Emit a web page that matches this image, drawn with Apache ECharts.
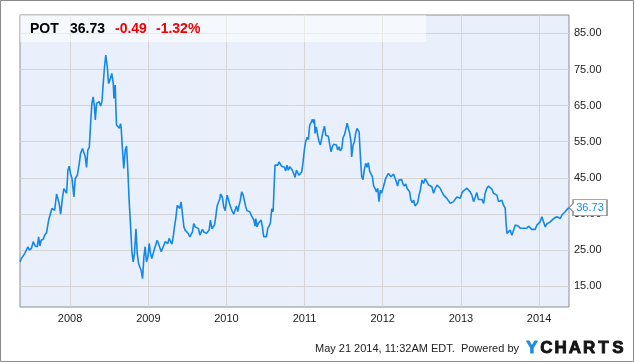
<!DOCTYPE html>
<html>
<head>
<meta charset="utf-8">
<script src="https://cdn.jsdelivr.net/npm/echarts@6/dist/echarts.min.js"></script>
<style>
html,body{margin:0;padding:0;background:#fff;}
#chart{width:635px;height:362px;}
</style>
</head>
<body>
<div id="chart"></div>
<script>
const ticker = 'POT';
const lastPrice = 36.73;
const change = '-0.49';
const changePct = '-1.32%';
const footerText = 'May 21 2014, 11:32AM EDT.  Powered by';
const yTicks = [15, 25, 35, 45, 55, 65, 75, 85];
const xTicks = ['2008-01-01','2009-01-01','2010-01-01','2011-01-01','2012-01-01','2013-01-01','2014-01-01'];

const dates2007to2009 = ['2007-05-12','2007-05-18','2007-05-27','2007-06-03','2007-06-09','2007-06-18','2007-06-24','2007-07-04','2007-07-13','2007-07-22','2007-08-01','2007-08-07','2007-08-13','2007-08-19','2007-08-29','2007-09-04','2007-09-13','2007-09-23','2007-09-29','2007-10-08','2007-10-14','2007-10-21','2007-10-30','2007-11-05','2007-11-11','2007-11-18','2007-11-27','2007-12-03','2007-12-09','2007-12-16','2007-12-22','2007-12-28','2008-01-03','2008-01-10','2008-01-19','2008-01-25','2008-02-04','2008-02-13','2008-02-19','2008-02-28','2008-03-06','2008-03-12','2008-03-18','2008-03-24','2008-03-31','2008-04-06','2008-04-12','2008-04-18','2008-04-24','2008-04-28','2008-05-04','2008-05-10','2008-05-16','2008-05-23','2008-05-29','2008-06-04','2008-06-10','2008-06-16','2008-06-23','2008-06-29','2008-07-05','2008-07-14','2008-07-21','2008-07-24','2008-07-30','2008-08-02','2008-08-05','2008-08-11','2008-08-18','2008-08-24','2008-08-27','2008-09-02','2008-09-08','2008-09-15','2008-09-21','2008-09-27','2008-10-03','2008-10-10','2008-10-16','2008-10-22','2008-10-28','2008-11-04','2008-11-10','2008-11-16','2008-11-22','2008-11-28','2008-12-05','2008-12-11','2008-12-17','2008-12-23','2008-12-30','2009-01-05','2009-01-11','2009-01-17','2009-01-24','2009-01-30','2009-02-05','2009-02-11','2009-02-17','2009-02-24','2009-03-02','2009-03-08','2009-03-14','2009-03-21','2009-03-27','2009-04-02','2009-04-08','2009-04-14','2009-04-21','2009-04-27','2009-05-03','2009-05-09','2009-05-16','2009-05-22','2009-05-28','2009-06-03','2009-06-10','2009-06-16','2009-06-22','2009-06-28','2009-07-08','2009-07-14','2009-07-20','2009-07-26','2009-08-01','2009-08-08','2009-08-14','2009-08-23','2009-08-30','2009-09-05','2009-09-11','2009-09-17','2009-09-23','2009-09-30','2009-10-06','2009-10-12','2009-10-18','2009-10-25','2009-10-31','2009-11-06','2009-11-12','2009-11-18','2009-11-25','2009-12-01','2009-12-04'];
const prices2007to2009 = [21.7,22.6,22.2,24.0,23.6,25.9,25.0,25.4,27.3,26.1,25.9,28.6,26.1,27.7,28.0,29.1,29.8,33.3,33.7,36.5,36.0,36.0,40.5,40.7,37.9,34.9,39.7,42.0,42.5,40.7,47.1,48.2,46.2,44.8,39.7,44.8,45.7,49.0,51.7,53.1,53.1,50.8,47.9,52.7,53.4,60.0,65.6,67.4,64.7,61.0,65.6,66.1,66.1,64.9,66.1,71.1,75.7,79.0,75.7,71.1,72.0,73.9,71.1,67.0,70.7,64.7,59.6,59.1,58.7,60.0,58.7,52.7,47.6,52.7,53.8,47.1,38.8,31.4,24.5,21.7,24.0,30.9,24.0,21.3,20.3,19.4,17.1,23.1,25.9,21.7,23.1,26.8,24.0,22.6,22.6,25.4,25.9,27.7,26.8,26.3,24.5,25.4,25.4,27.3,26.8,26.8,28.2,28.6,26.6,28.6,31.4,33.7,37.4,36.9,36.5,38.3,38.8,31.4,30.5,30.0,29.4,28.6,29.1,30.0,32.3,31.4,30.9,30.9,29.1,30.0,30.7,30.0,29.6,29.6,29.8,30.5,33.3,30.9,30.7,31.9,34.2,37.1,37.5,39.2,40.5];

const dates2009to2012 = ['2009-12-07','2009-12-13','2009-12-19','2009-12-26','2010-01-01','2010-01-04','2010-01-10','2010-01-16','2010-01-23','2010-01-29','2010-02-04','2010-02-10','2010-02-17','2010-02-23','2010-03-01','2010-03-07','2010-03-13','2010-03-20','2010-03-26','2010-04-01','2010-04-07','2010-04-14','2010-04-20','2010-04-26','2010-05-02','2010-05-09','2010-05-15','2010-05-18','2010-05-24','2010-05-30','2010-06-06','2010-06-12','2010-06-18','2010-06-24','2010-06-30','2010-07-07','2010-07-13','2010-07-19','2010-07-25','2010-08-01','2010-08-07','2010-08-13','2010-08-16','2010-08-22','2010-08-29','2010-09-04','2010-09-10','2010-09-16','2010-09-23','2010-09-29','2010-10-05','2010-10-11','2010-10-17','2010-10-24','2010-10-30','2010-11-05','2010-11-11','2010-11-18','2010-11-24','2010-11-30','2010-12-06','2010-12-13','2010-12-19','2010-12-25','2010-12-31','2011-01-06','2011-01-13','2011-01-19','2011-01-25','2011-01-31','2011-02-07','2011-02-13','2011-02-16','2011-02-19','2011-02-25','2011-03-03','2011-03-10','2011-03-16','2011-03-22','2011-03-28','2011-04-04','2011-04-10','2011-04-16','2011-04-22','2011-04-29','2011-05-05','2011-05-11','2011-05-17','2011-05-23','2011-05-30','2011-06-05','2011-06-11','2011-06-17','2011-06-24','2011-06-30','2011-07-06','2011-07-12','2011-07-19','2011-07-25','2011-07-31','2011-08-06','2011-08-09','2011-08-16','2011-08-22','2011-08-28','2011-09-03','2011-09-06','2011-09-13','2011-09-19','2011-09-25','2011-10-01','2011-10-07','2011-10-14','2011-10-20','2011-10-26','2011-11-01','2011-11-08','2011-11-14','2011-11-20','2011-11-26','2011-12-03','2011-12-09','2011-12-15','2011-12-21','2011-12-27','2012-01-03','2012-01-09','2012-01-15','2012-01-21','2012-01-28','2012-02-03','2012-02-09','2012-02-15','2012-02-21','2012-02-28','2012-03-05','2012-03-11','2012-03-17','2012-03-24','2012-03-30','2012-04-05','2012-04-11','2012-04-18','2012-04-24','2012-04-30','2012-05-06','2012-05-12','2012-05-19','2012-05-25','2012-05-31','2012-06-06','2012-06-13','2012-06-19','2012-06-25'];
const prices2009to2012 = [40.5,39.6,37.0,35.9,38.8,40.2,39.0,37.7,36.5,35.6,34.9,36.0,37.2,35.6,37.4,38.8,41.1,40.2,38.6,37.0,35.9,35.9,35.6,34.7,34.2,33.3,31.6,33.7,31.4,32.4,31.9,33.3,31.4,28.7,28.2,28.7,31.0,31.6,32.4,36.5,35.6,44.4,48.5,48.2,48.5,49.4,48.8,48.2,47.9,47.9,46.9,48.5,47.1,48.1,47.9,47.1,46.2,45.1,47.1,47.6,45.7,45.9,46.7,49.4,52.7,55.0,56.2,55.6,59.6,60.2,61.2,60.1,61.2,57.3,59.1,56.8,55.0,54.1,55.9,57.7,59.3,56.8,56.5,56.5,54.1,52.2,53.6,54.3,54.1,54.1,52.7,53.6,52.5,53.1,56.2,56.8,58.2,60.1,58.7,57.3,55.0,50.8,54.1,55.0,57.3,58.7,59.1,57.7,50.8,45.3,44.5,47.1,49.0,47.9,49.2,46.9,46.0,45.3,42.7,42.1,41.1,42.1,38.4,41.6,40.7,42.1,42.5,44.8,45.3,46.2,46.7,45.3,45.7,46.0,46.2,43.9,42.7,44.4,44.8,44.5,43.3,42.7,43.3,42.1,41.6,41.1,38.8,38.1,38.8,37.2,37.7,38.1,40.2,41.5];

const dates2012to2014 = ['2012-07-03','2012-07-10','2012-07-18','2012-07-26','2012-08-03','2012-08-10','2012-08-18','2012-08-26','2012-09-03','2012-09-11','2012-09-18','2012-09-26','2012-10-04','2012-10-12','2012-10-20','2012-10-27','2012-11-04','2012-11-12','2012-11-20','2012-11-27','2012-12-05','2012-12-13','2012-12-21','2012-12-29','2013-01-05','2013-01-13','2013-01-21','2013-01-29','2013-02-06','2013-02-13','2013-02-21','2013-03-01','2013-03-09','2013-03-16','2013-03-24','2013-04-01','2013-04-09','2013-04-17','2013-04-24','2013-05-02','2013-05-10','2013-05-18','2013-05-26','2013-06-02','2013-06-10','2013-06-18','2013-06-26','2013-07-03','2013-07-11','2013-07-19','2013-07-27','2013-07-31','2013-08-04','2013-08-08','2013-08-13','2013-08-19','2013-08-27','2013-09-04','2013-09-12','2013-09-19','2013-09-27','2013-10-05','2013-10-13','2013-10-20','2013-10-28','2013-11-05','2013-11-13','2013-11-21','2013-11-28','2013-12-06','2013-12-14','2013-12-22','2013-12-30','2014-01-06','2014-01-14','2014-01-22','2014-01-30','2014-02-06','2014-02-14','2014-02-22','2014-03-02','2014-03-10','2014-03-17','2014-03-25','2014-04-02','2014-04-10','2014-04-18','2014-04-25','2014-05-03','2014-05-11','2014-05-19','2014-05-21'];
const prices2012to2014 = [44.4,43.4,44.8,45.1,43.0,43.3,42.5,40.7,42.1,43.0,43.0,42.1,41.1,40.2,39.7,39.3,38.8,37.9,37.7,38.4,38.8,39.7,40.2,39.3,40.7,41.4,41.4,42.1,41.8,41.1,40.2,38.4,39.7,40.9,39.0,38.8,39.0,37.9,40.7,42.1,42.7,42.5,41.8,40.7,40.7,40.2,38.4,37.9,38.8,37.4,36.5,32.4,29.6,29.1,30.1,30.5,29.1,29.1,31.9,31.4,31.6,31.0,31.4,31.0,31.2,31.0,31.6,31.6,30.7,30.5,30.7,31.9,32.4,32.8,34.2,32.8,31.4,32.2,32.4,32.8,33.3,33.7,33.5,34.2,34.7,33.7,34.7,35.1,35.6,36.2,36.5,36.73];

// build the table the library needs: date strings -> timestamps (UTC)
const toTime = s => Date.UTC(+s.slice(0, 4), +s.slice(5, 7) - 1, +s.slice(8, 10));
const dates = dates2007to2009.concat(dates2009to2012, dates2012to2014);
const prices = prices2007to2009.concat(prices2009to2012, prices2012to2014);
const seriesData = dates.map((d, i) => [toTime(d), prices[i]]);
const xTickTimes = xTicks.map(toTime);
const lastDate = dates[dates.length - 1];

const FONT = '"Liberation Sans", Arial, Helvetica, sans-serif';
const chart = echarts.init(document.getElementById('chart'), null, {renderer: 'canvas'});

const logoLetters = ['Y','C','H','A','R','T','S'];
const logoGraphics = logoLetters.map((ch, i) => ({
  type: 'text', z: 100,
  style: {
    text: ch, x: 532 + i * 14.3, y: 348, align: 'center', verticalAlign: 'middle',
    font: 'bold 17px ' + FONT,
    fill: i === 0 ? '#1d8be0' : '#141414',
    stroke: i === 0 ? '#1d8be0' : '#141414', lineWidth: 0.9
  }
}));

chart.setOption({
  animation: false,
  grid: {
    left: 20, right: 66, top: 15, bottom: 55,
    show: true, backgroundColor: '#eaf0fb', borderColor: '#8d8d8d', borderWidth: 1
  },
  xAxis: {
    type: 'value',
    min: toTime(dates[0]),
    max: toTime(lastDate),
    axisLine: {show: false},
    axisTick: {show: false, customValues: xTickTimes},
    splitLine: {show: true, lineStyle: {color: '#d5d5d5', width: 1}},
    axisLabel: {
      customValues: xTickTimes,
      formatter: v => String(new Date(v).getUTCFullYear()),
      color: '#222', fontSize: 11, fontFamily: FONT, margin: 6
    }
  },
  yAxis: {
    type: 'value',
    position: 'right',
    min: 9.2, max: 90.1,
    axisLine: {show: false},
    axisTick: {show: false, customValues: yTicks},
    splitLine: {show: true, lineStyle: {color: '#d5d5d5', width: 1}},
    axisLabel: {
      customValues: yTicks,
      formatter: v => v.toFixed(2),
      color: '#222', fontSize: 11, fontFamily: FONT, margin: 5
    }
  },
  series: [{
    type: 'line',
    data: seriesData,
    showSymbol: false,
    symbol: 'none',
    lineStyle: {color: '#1488e6', width: 1.6},
    z: 3,
    markPoint: {
      silent: true,
      symbol: 'path://M0,8 L4,4 L4,0 L38,0 L38,16 L4,16 L4,12 Z',
      symbolSize: [38, 16],
      symbolOffset: [19, 0],
      itemStyle: {color: '#ffffff', borderColor: '#8a8a8a', borderWidth: 1},
      label: {
        show: true, position: 'inside', offset: [2, 0],
        formatter: () => lastPrice.toFixed(2),
        color: '#1a8ae6', fontSize: 11, fontFamily: FONT
      },
      data: [{coord: [toTime(lastDate), lastPrice], value: lastPrice}]
    }
  }],
  graphic: [
    {type: 'rect', z: 50, shape: {x: 20, y: 15, width: 406, height: 27}, style: {fill: 'rgba(255,255,255,0.5)'}},
    {type: 'text', z: 60, style: {text: ticker, x: 30, y: 29, verticalAlign: 'middle', font: 'bold 14px ' + FONT, fill: '#000'}},
    {type: 'text', z: 60, style: {text: lastPrice.toFixed(2), x: 70, y: 29, verticalAlign: 'middle', font: 'bold 14px ' + FONT, fill: '#000'}},
    {type: 'text', z: 60, style: {text: change, x: 115, y: 29, verticalAlign: 'middle', font: 'bold 14px ' + FONT, fill: '#f00000'}},
    {type: 'text', z: 60, style: {text: changePct, x: 156, y: 29, verticalAlign: 'middle', font: 'bold 14px ' + FONT, fill: '#f00000'}},
    {type: 'text', z: 60, style: {text: footerText, x: 519, y: 349, align: 'right', verticalAlign: 'middle', font: '11px ' + FONT, fill: '#222'}},
    {type: 'rect', z: 100, shape: {x: 0.5, y: 0.5, width: 633, height: 361}, style: {fill: 'none', stroke: '#8a8a8a', lineWidth: 1}}
  ].concat(logoGraphics)
});
</script>
</body>
</html>
